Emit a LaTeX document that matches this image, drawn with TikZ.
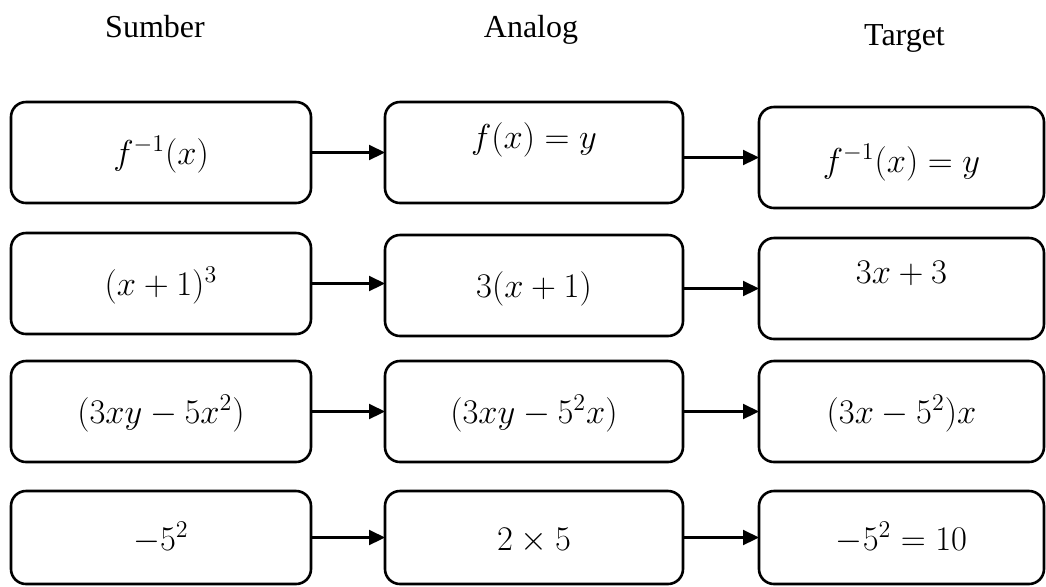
\documentclass[tikz,border=0pt]{standalone}
\usepackage{fontspec}
\usetikzlibrary{arrows.meta,positioning}
\newfontfamily\headfont{Liberation Serif}

\begin{document}
\begin{tikzpicture}[>={Triangle[length=8pt,width=7.5pt]},node distance=37pt]
  \tikzset{mathbox/.style={draw,line width=1.3pt,rounded corners=7.5pt,outer sep=0pt,inner sep=0pt,minimum width=150pt,minimum height=50.5pt,text height=16.5pt,text depth=5pt,align=center,font=\fontsize{18}{22}\selectfont},
    headlabel/.style={anchor=base,font=\headfont\fontsize{16}{19}\selectfont},
    flowline/.style={line width=1.1pt,->}}
  \useasboundingbox (0pt,0pt) rectangle (523pt,-293pt);
  % column heads
  \node[headlabel] (hsum) at (77.5pt,-18.5pt) {Sumber};
  \node[headlabel] (hana) at (265.5pt,-18.5pt) {Analog};
  \node[headlabel] (htgt) at (452.25pt,-22.5pt) {Target};
  % source column
  \node[mathbox] (sum1) at (80.5pt,-76.25pt) {$f^{-1}(x)$};
  \node[mathbox,below=15pt of sum1] (sum2) {$(x+1)^3$};
  \node[mathbox,below=13.5pt of sum2] (sum3) {$(3xy-5x^2)$};
  \node[mathbox,below=14.5pt of sum3,minimum height=46.5pt,text height=18pt] (sum4) {$-5^2$};
  % analog column
  \node[mathbox,minimum width=149pt,right=of sum1,text depth=20.5pt] (ana1) {$f(x)=y$};
  \node[mathbox,minimum width=149pt,right=of sum2,yshift=-1pt] (ana2) {$3(x+1)$};
  \node[mathbox,minimum width=149pt,right=of sum3] (ana3) {$(3xy-5^2x)$};
  \node[mathbox,minimum width=149pt,right=of sum4,minimum height=46.5pt,text height=18pt] (ana4) {$2\times 5$};
  % target column
  \node[mathbox,minimum width=142.5pt,right=38pt of ana1,yshift=-2.5pt,text height=19.5pt] (tgt1) {$f^{-1}(x)=y$};
  \node[mathbox,minimum width=142.5pt,right=38pt of ana2,yshift=-1.5pt,text depth=21.5pt] (tgt2) {$3x+3$};
  \node[mathbox,minimum width=142.5pt,right=38pt of ana3] (tgt3) {$(3x-5^2)x$};
  \node[mathbox,minimum width=142.5pt,right=38pt of ana4,minimum height=46.5pt,text height=18pt] (tgt4) {$-5^2=10$};
  \draw[flowline] (sum1) -- (ana1);
  \draw[flowline] (ana1.east |- tgt1.west) -- (tgt1);
  \draw[flowline] (sum2) -- (sum2 -| ana2.west);
  \draw[flowline] (ana2.east |- tgt2.west) -- (tgt2);
  \draw[flowline] (sum3) -- (ana3);
  \draw[flowline] (ana3) -- (tgt3);
  \draw[flowline] (sum4) -- (ana4);
  \draw[flowline] (ana4) -- (tgt4);
\end{tikzpicture}
\end{document}
